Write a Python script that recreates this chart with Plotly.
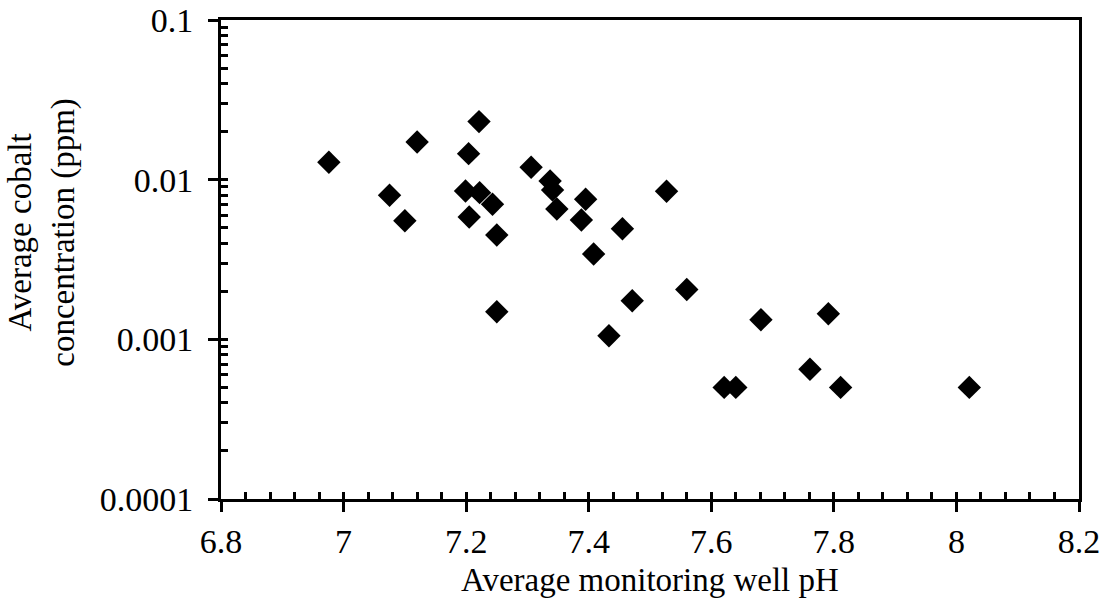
import plotly.graph_objects as go

# Data
ph = [6.976, 7.120, 7.221, 7.204, 7.075, 7.100, 7.199, 7.222, 7.243, 7.205,
      7.250, 7.306, 7.337, 7.341, 7.348, 7.395, 7.388, 7.455, 7.408, 7.527,
      7.250, 7.433, 7.471, 7.560, 7.681, 7.791, 7.621, 7.640, 7.761, 7.811, 8.021]
cobalt = [0.01285, 0.0172, 0.0231, 0.01455, 0.00798, 0.00553, 0.00849, 0.00829, 0.00701, 0.00584,
          0.0045, 0.01195, 0.00981, 0.00862, 0.00655, 0.00754, 0.00559, 0.00493, 0.00342, 0.00846,
          0.00149, 0.001054, 0.001746, 0.00205, 0.001327, 0.001447, 0.0005, 0.0005, 0.000649, 0.0005, 0.0005]

x_ticks = [6.8, 7.0, 7.2, 7.4, 7.6, 7.8, 8.0, 8.2]
x_tick_text = ["6.8", "7", "7.2", "7.4", "7.6", "7.8", "8", "8.2"]
y_ticks = [0.0001, 0.001, 0.01, 0.1]
y_tick_text = ["0.0001", "0.001", "0.01", "0.1"]

x_title = "Average monitoring well pH"
y_title = "Average cobalt<br>concentration (ppm)"

FONT = "Liberation Serif, Times New Roman, serif"
TICK_FS = 34
TITLE_FS = 33

x_inner = [round(6.8 + 0.04 * i, 2) for i in range(36)]
y_inner = [m * 10 ** e for e in range(-4, -1) for m in range(1, 10)] + [0.1]

fig = go.Figure()
fig.add_trace(go.Scatter(
    x=ph, y=cobalt, mode="markers",
    marker=dict(symbol="diamond", size=18, color="black", line=dict(width=0)),
    showlegend=False, hoverinfo="skip",
))
# invisible trace to activate overlay axes
fig.add_trace(go.Scatter(x=[x_ticks[0]], y=[y_ticks[0]], xaxis="x2", yaxis="y2",
                         mode="markers", marker=dict(opacity=0), showlegend=False, hoverinfo="skip"))

fig.update_layout(
    width=1104, height=603,
    margin=dict(l=221, r=25, t=20, b=104, autoexpand=False),
    paper_bgcolor="white", plot_bgcolor="white",
    font=dict(family=FONT, size=TICK_FS, color="black"),
    xaxis=dict(
        range=[6.8, 8.2], tickmode="array", tickvals=x_ticks, ticktext=x_tick_text,
        showgrid=False, zeroline=False, showline=True, linecolor="black", linewidth=3,
        mirror=True, ticks="outside", ticklen=10, tickwidth=3, tickcolor="black",
        ticklabelstandoff=0, automargin=False,
        tickfont=dict(family=FONT, size=TICK_FS),
    ),
    yaxis=dict(
        type="log", range=[-4, -1], tickmode="array", tickvals=y_ticks, ticktext=y_tick_text,
        showgrid=False, zeroline=False, showline=True, linecolor="black", linewidth=3,
        mirror=True, ticks="outside", ticklen=10, tickwidth=3, tickcolor="black",
        ticklabelstandoff=8, automargin=False,
        tickfont=dict(family=FONT, size=TICK_FS),
    ),
    xaxis2=dict(
        overlaying="x", matches="x", range=[6.8, 8.2], tickmode="array", tickvals=x_inner,
        showticklabels=False, showgrid=False, zeroline=False, showline=False,
        ticks="inside", ticklen=7, tickwidth=3, tickcolor="black", side="bottom",
        automargin=False,
    ),
    yaxis2=dict(
        overlaying="y", type="log", range=[-4, -1], tickmode="array", tickvals=y_inner,
        showticklabels=False, showgrid=False, zeroline=False, showline=False,
        ticks="inside", ticklen=7, tickwidth=3, tickcolor="black", side="left",
        automargin=False,
    ),
    annotations=[
        dict(text=x_title, xref="paper", yref="paper", x=0.5, y=-0.169,
             xanchor="center", yanchor="middle", showarrow=False,
             font=dict(family=FONT, size=TITLE_FS)),
        dict(text=y_title, xref="paper", yref="paper", x=-0.208, y=0.555,
             xanchor="center", yanchor="middle", showarrow=False, textangle=-90,
             font=dict(family=FONT, size=TITLE_FS)),
    ],
)

fig.write_html("out.html")
